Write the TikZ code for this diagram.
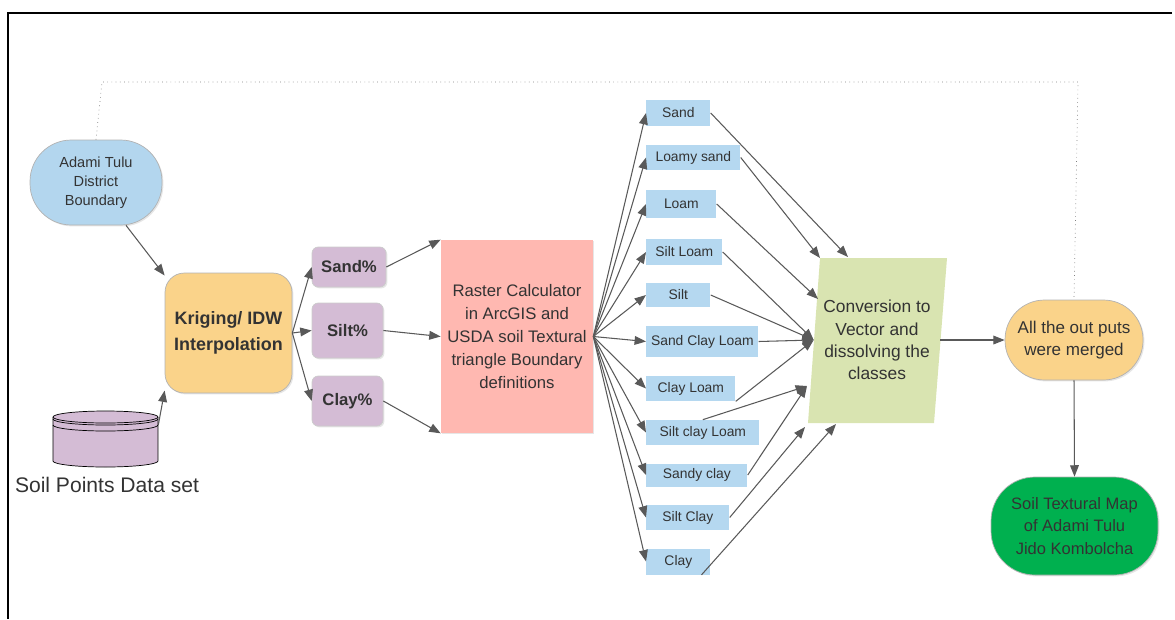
\documentclass[tikz,border=0pt]{standalone}
\usepackage{fontspec}
\setmainfont{Liberation Sans}
\usetikzlibrary{arrows.meta,shadows}
\definecolor{boundblue}{HTML}{B3D6EE}
\definecolor{krigorange}{HTML}{FAD38A}
\definecolor{fracpurple}{HTML}{D4BCD5}
\definecolor{calcred}{HTML}{FFB8B1}
\definecolor{classblue}{HTML}{B5D8F0}
\definecolor{convgreen}{HTML}{D9E4B1}
\definecolor{mapgreen}{HTML}{00B04F}
\definecolor{ink}{HTML}{333333}
\definecolor{wire}{HTML}{595959}
\tikzset{
  flow/.style={draw=wire,line width=0.6pt,-{Triangle[length=6.5pt,width=5pt]}},
  soft/.style={drop shadow={shadow xshift=0.8pt,shadow yshift=-0.8pt,opacity=0.2}},
  pill/.style={draw=gray!60,text=ink,align=center,inner sep=0pt,soft},
  pct/.style={draw=gray!40,fill=fracpurple,rounded corners=3.5pt,text=ink,inner sep=0pt,
    font=\bfseries\fontsize{9.5}{11}\selectfont,soft},
  classbox/.style={anchor=west,fill=classblue,text=ink,inner sep=0pt,
    font=\fontsize{7.9}{9}\selectfont},
}
\begin{document}
\begin{tikzpicture}[x=0.02cm,y=-0.02cm]
  \useasboundingbox (0,0) rectangle (1175,619);
  \draw[line width=1.2pt] (1172,13) -- (8,13) -- (8,619);

  \node[pill,fill=boundblue,rounded corners=23.5pt,minimum width=2.64cm,minimum height=1.7cm,
    font=\fontsize{8.3}{10.8}\selectfont] (adami) at (96,182.5) {Adami Tulu\\District\\Boundary};
  \node[pill,fill=krigorange,rounded corners=11pt,minimum width=2.54cm,minimum height=2.4cm,
    font=\bfseries\fontsize{10.2}{14.7}\selectfont] (krig) at (228.5,333) {Kriging/ IDW\\Interpolation};

  \node[minimum width=2.1cm,minimum height=1.12cm,inner sep=0pt] (db) at (105.5,439) {};
  \draw[fill=fracpurple] (53,417) -- (53,461) arc[start angle=180,end angle=360,x radius=1.05cm,y radius=0.12cm] -- (158,417);
  \draw[fill=fracpurple] (105.5,417) ellipse[x radius=1.05cm,y radius=0.12cm];
  \draw (53,419) arc[start angle=180,end angle=360,x radius=1.05cm,y radius=0.12cm];
  \draw (53,425) arc[start angle=180,end angle=360,x radius=1.05cm,y radius=0.12cm];
  \node[text=ink,font=\fontsize{12}{14}\selectfont] (dblabel) at (107,485) {Soil Points Data set};

  \node[pct,minimum width=1.48cm,minimum height=0.8cm] (sandp) at (349,267) {Sand\%};
  \node[pct,minimum width=1.42cm,minimum height=1.1cm] (siltp) at (347.5,330.5) {Silt\%};
  \node[pct,minimum width=1.42cm,minimum height=1.0cm] (clayp) at (347.5,401) {Clay\%};

  \node[fill=calcred,text=ink,align=center,inner sep=0pt,minimum width=3.04cm,minimum height=3.86cm,soft,
    font=\fontsize{9.5}{13}\selectfont] (raster) at (517,336.5)
    {Raster Calculator\\in ArcGIS and\\USDA soil Textural\\triangle Boundary\\definitions};

  \foreach \nm/\lbl/\yy/\ww/\hh in {sand/Sand/113/64/26, lsand/Loamy sand/157.5/94/25,
      loam/Loam/204/70/28, siltloam/Silt Loam/252/76/26, silt/Silt/295/64/24,
      scl/Sand Clay Loam/341.5/112/31, clayloam/Clay Loam/388.5/89/25,
      scloam/Silt clay Loam/432.5/113/25, sandyclay/Sandy clay/475/101/23,
      siltclay/Silt Clay/517.5/83/25, clay/Clay/561.5/64/26}
    \node[classbox,minimum width=\ww*0.02cm,minimum height=\hh*0.02cm] (\nm) at (646,\yy) {\lbl};

  \fill[convgreen] (808,423) -- (820,258) -- (947,258) -- (934,423) -- cycle;
  \node[minimum width=2.52cm,minimum height=3.3cm,inner sep=0pt,align=center,text=ink,
    font=\fontsize{9.9}{12.7}\selectfont] (conv) at (877,340) {Conversion to\\Vector and\\dissolving the\\classes};
  \coordinate (convtop) at (848,257);
  \coordinate (convcorner) at (820,258);
  \coordinate (convupper) at (818,299);
  \coordinate (convlower) at (807,386);
  \coordinate (convfoot) at (805,427);
  \coordinate (convbase) at (836,424);

  \node[pill,fill=krigorange,rounded corners=22.5pt,minimum width=2.76cm,minimum height=1.6cm,
    font=\fontsize{9.7}{12.5}\selectfont] (merged) at (1074,340) {All the out puts\\were merged};
  \node[pill,fill=mapgreen,rounded corners=25pt,minimum width=3.34cm,minimum height=1.96cm,
    font=\fontsize{9.4}{12.8}\selectfont] (final) at (1074.5,526) {Soil Textural Map\\of Adami Tulu\\Jido Kombolcha};

  \draw[dotted,draw=gray,line width=0.4pt] (adami.north) -- (102,82) -- (1078,82) -- (merged.north);

  \draw[flow] (adami.-55) -- (krig.138);
  \draw[flow] (db.15) -- (krig.-138);
  \foreach \nm in {sandp,siltp,clayp}
    \draw[flow] (krig.east) -- (\nm.west);
  \draw[flow] (sandp.east) -- (raster.north west);
  \draw[flow] (siltp.east) -- (raster.west);
  \draw[flow] (clayp.east) -- (raster.south west);
  \foreach \nm in {sand,lsand,loam,siltloam,silt,scl,clayloam,scloam,sandyclay,siltclay,clay}
    \draw[flow] (raster.east) -- (\nm.west);

  \draw[flow] (sand.east) -- (convtop);
  \draw[flow] (lsand.east) -- (convcorner);
  \draw[flow] (loam.east) -- (convupper);
  \foreach \nm in {siltloam,silt,scl}
    \draw[flow] (\nm.east) -- (conv.west);
  \draw[flow] (clayloam.south east) -- (conv.west);
  \draw[flow] (scloam.north) -- (convlower);
  \draw[flow] (sandyclay.east) -- (convlower);
  \draw[flow] (siltclay.east) -- (convfoot);
  \draw[flow] (clay.-30) -- (convbase);

  \draw[flow] (conv.east) -- (merged.west);
  \draw[flow] (merged.south) -- (final.north);
\end{tikzpicture}
\end{document}
